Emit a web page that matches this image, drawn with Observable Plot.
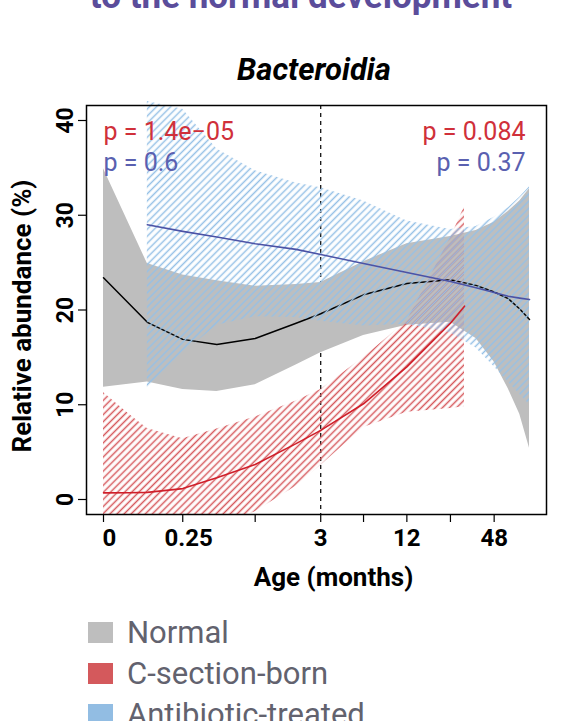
<!DOCTYPE html>
<html><head><meta charset="utf-8">
<script src="https://cdn.jsdelivr.net/npm/d3@7"></script>
<script src="https://cdn.jsdelivr.net/npm/@observablehq/plot@0.6"></script>
<style>
body{margin:0;background:#fff;}
#wrap{position:relative;width:568px;height:721px;overflow:hidden;font-family:Roboto,sans-serif;}
#top{position:absolute;left:0;top:-21px;width:602px;text-align:center;font-size:35px;line-height:35px;font-weight:bold;color:#5b4d9b;white-space:nowrap;}
#title{position:absolute;left:0;top:54px;width:628px;text-align:center;font-size:31px;line-height:31px;font-weight:bold;font-style:italic;color:#000;}
#chart{position:absolute;left:0;top:90px;}
.lg{position:absolute;left:88px;width:25px;height:21px;}
.lt{position:absolute;left:127px;font-size:31px;line-height:31px;color:#62626e;white-space:nowrap;}
</style></head><body>
<div id="wrap">
  <div id="top">to the normal development</div>
  <div id="title">Bacteroidia</div>
  <div id="chart"></div>
  <div id="legend"></div>
</div>
<script>
// ---- data ----
const normalAge  = [0, 0.1, 0.25, 0.5, 1, 2, 3, 6, 12, 24, 36, 48, 60, 72, 84];
const normalMean = [23.4, 18.7, 16.9, 16.35, 17.0, 18.6, 19.6, 21.6, 22.8, 23.2, 22.6, 21.9, 21.2, 20.1, 19.0];
const normalLow  = [11.85, 12.4, 11.6, 11.4, 12.1, 14.2, 15.5, 17.3, 18.4, 18.7, 17.0, 14.5, 11.7, 9.0, 5.4];
const normalHigh = [34.9, 24.9, 23.7, 23.1, 22.5, 22.7, 22.9, 25.1, 27.0, 27.75, 28.4, 29.25, 30.4, 31.5, 32.8];

const abxAge  = [0.1, 0.25, 0.5, 1, 2, 3, 6, 12, 24, 36, 48, 60, 72, 84];
const abxMean = [29.0, 28.3, 27.7, 27.0, 26.4, 25.85, 24.9, 23.95, 23.0, 22.35, 21.85, 21.45, 21.25, 21.1];
const abxLow  = [11.7, 15.4, 18.4, 19.3, 19.2, 18.8, 18.3, 18.5, 17.6, 16.0, 14.0, 12.4, 11.1, 10.0];
const abxHigh = [42.0, 41.2, 37.0, 34.7, 33.4, 32.9, 31.5, 29.4, 28.5, 28.8, 29.8, 30.8, 31.9, 33.0];

const csecAge  = [0, 0.05, 0.1, 0.25, 0.5, 1, 2, 3, 6, 12, 24, 30];
const csecMean = [0.7, 0.72, 0.75, 1.15, 2.3, 3.7, 5.9, 7.3, 10.1, 14.0, 18.6, 20.4];
const csecLow  = [-9.9, -7.6, -5.9, -4.1, -2.9, -1.3, 1.4, 3.6, 7.6, 9.2, 9.6, 9.8];
const csecHigh = [11.3, 9.0, 7.5, 6.4, 7.45, 8.7, 10.4, 11.6, 15.0, 18.8, 27.6, 30.9];

const xTicks = [0, 0.25, 1, 3, 6, 12, 24, 48];
const xLabelTicks = [0, 0.25, 3, 12, 48];
const xLabelText = ["0", "0.25", "3", "12", "48"];
const yTicks = [0, 10, 20, 30, 40];
const splitAge = [3];
const pLeft = ["p = 1.4e\u221205", "p = 0.6"];
const pRight = ["p = 0.084", "p = 0.37"];
const legendLabels = ["Normal", "C-section-born", "Antibiotic-treated"];
const legendColors = ["#bebebe", "#d4595c", "#92bde3"];

const RED_T = "#d0303a", BLUE_T = "#5a60b0";

const zip = (a, m, l, h) => a.map((x, i) => ({age: x, mean: m[i], low: l[i], high: h[i]}));
const normal = zip(normalAge, normalMean, normalLow, normalHigh);
const abx = zip(abxAge, abxMean, abxLow, abxHigh);
const csec = zip(csecAge, csecMean, csecLow, csecHigh);

const svg = Plot.plot({
  width: 568, height: 510,
  marginLeft: 86, marginRight: 22, marginTop: 15, marginBottom: 86,
  style: {fontFamily: "Roboto, sans-serif", color: "#000", background: "transparent"},
  x: {type: "symlog", constant: 0.1, domain: [0, 84], insetLeft: 17, insetRight: 17},
  y: {domain: [0, 40], insetTop: 15, insetBottom: 15},
  marks: [
    Plot.ruleX(splitAge, {stroke: "black", strokeWidth: 1.2, strokeDasharray: "4,4"}),
    Plot.areaY(normal, {x: "age", y1: "low", y2: "high", fill: "#bebebe"}),
    Plot.line(normal, {x: "age", y: "mean", stroke: "black", strokeWidth: 1.5}),
    Plot.areaY(csec, {x: "age", y1: "low", y2: "high", fill: "url(#hatchRed)", clip: true}),
    Plot.areaY(abx, {x: "age", y1: "low", y2: "high", fill: "url(#hatchBlue)"}),
    Plot.line(csec, {x: "age", y: "mean", stroke: "#cf1f2a", strokeWidth: 1.6}),
    Plot.line(abx, {x: "age", y: "mean", stroke: "#4c53a6", strokeWidth: 1.6}),
    Plot.text([pLeft[0]], {frameAnchor: "top-left", textAnchor: "start", lineAnchor: "bottom", dx: 17, dy: 34, fill: RED_T, fontSize: 25}),
    Plot.text([pLeft[1]], {frameAnchor: "top-left", textAnchor: "start", lineAnchor: "bottom", dx: 17, dy: 65, fill: BLUE_T, fontSize: 25}),
    Plot.text([pRight[0]], {frameAnchor: "top-right", textAnchor: "end", lineAnchor: "bottom", dx: -21, dy: 34, fill: RED_T, fontSize: 25}),
    Plot.text([pRight[1]], {frameAnchor: "top-right", textAnchor: "end", lineAnchor: "bottom", dx: -21, dy: 65, fill: BLUE_T, fontSize: 25}),
    Plot.frame({stroke: "black", strokeWidth: 1.5}),
    Plot.axisY({ticks: yTicks, tickSize: 8, tickPadding: 6, tickRotate: -90, fontSize: 23, fontWeight: "bold", tickFormat: d => String(d), label: null, strokeWidth: 1.2}),
    Plot.axisX({ticks: xTicks, tickSize: 8, tickFormat: () => "", label: null, strokeWidth: 1.2}),
    Plot.text(xLabelTicks.slice(0, 2), {x: d => d, text: (d, i) => xLabelText[i], frameAnchor: "bottom", lineAnchor: "top", dy: 14, dx: 6, fontSize: 24, fontWeight: "bold"}),
    Plot.text(xLabelTicks.slice(2), {x: d => d, text: (d, i) => xLabelText[i + 2], frameAnchor: "bottom", lineAnchor: "top", dy: 14, fontSize: 24, fontWeight: "bold"}),
    Plot.text(["Age (months)"], {frameAnchor: "bottom", textAnchor: "middle", lineAnchor: "bottom", dy: 71, dx: 17, fontSize: 26, fontWeight: "bold"}),
    Plot.text(["Relative abundance (%)"], {frameAnchor: "left", textAnchor: "middle", rotate: -90, lineAnchor: "middle", dx: -64, dy: 6, fontSize: 26, fontWeight: "bold"})
  ]
});

const defs = d3.create("svg:defs");
function hatch(id, color) {
  const p = defs.append("pattern").attr("id", id).attr("patternUnits", "userSpaceOnUse")
    .attr("width", 5).attr("height", 5).attr("patternTransform", "rotate(45)");
  p.append("line").attr("x1", 2.5).attr("y1", -1).attr("x2", 2.5).attr("y2", 6)
    .attr("stroke", color).attr("stroke-width", 1.5);
}
hatch("hatchRed", "#d6595d");
hatch("hatchBlue", "#95c0e6");
svg.insertBefore(defs.node(), svg.firstChild);
document.getElementById("chart").appendChild(svg);

const lg = document.getElementById("legend");
const tops = [622, 663, 704];
legendLabels.forEach((t, i) => {
  const s = document.createElement("div");
  s.className = "lg"; s.style.top = tops[i] + "px"; s.style.background = legendColors[i];
  lg.appendChild(s);
  const l = document.createElement("div");
  l.className = "lt"; l.style.top = (tops[i] - 5) + "px"; l.textContent = t;
  lg.appendChild(l);
});
</script>
</body></html>
